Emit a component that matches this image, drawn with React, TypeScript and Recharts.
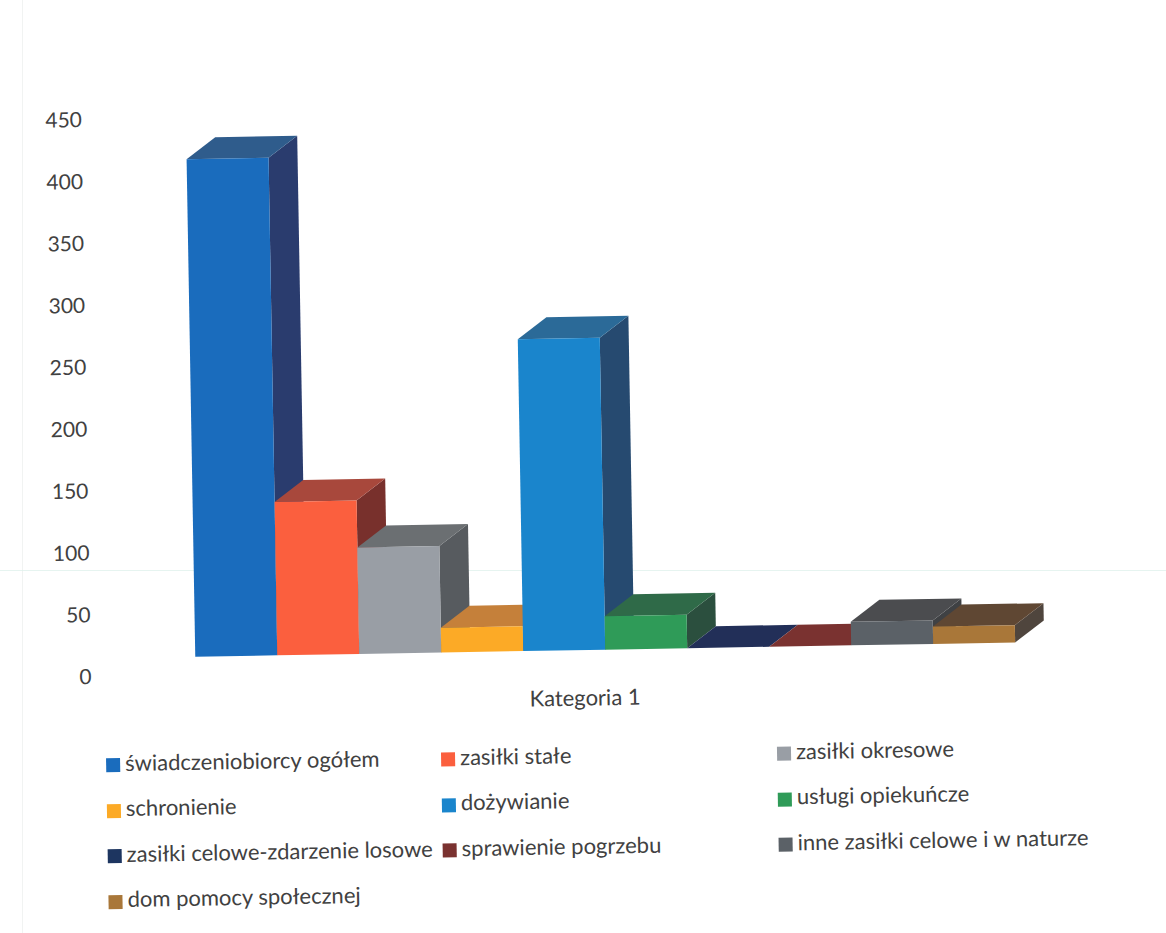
import { BarChart, Bar, XAxis, YAxis } from 'recharts';

const categories = ['Kategoria 1'];
const seriesNames = [
  'świadczeniobiorcy ogółem',
  'zasiłki stałe',
  'zasiłki okresowe',
  'schronienie',
  'dożywianie',
  'usługi opiekuńcze',
  'zasiłki celowe-zdarzenie losowe',
  'sprawienie pogrzebu',
  'inne zasiłki celowe i w naturze',
  'dom pomocy społecznej',
];
const seriesValues = [402, 124, 86, 20, 252, 27, 0, 0, 19, 14];
const yTicks = [0, 50, 100, 150, 200, 250, 300, 350, 400, 450];

const frontColors = ['#1a6cbd', '#fb5f3e', '#999ea5', '#fcaa26', '#1a85cc', '#2f9b58', '#1d3560', '#7a3230', '#5b6167', '#a97739'];
const topColors = ['#2f5c8c', '#a8483c', '#6b6f72', '#c5803a', '#2b6a98', '#2f6a48', '#222f58', '#7a3230', '#4b4c4f', '#5f4733'];
const sideColors = ['#2a3c6e', '#78302c', '#575b5f', '#8a5a30', '#264a70', '#2b4f3e', '#1a2546', '#5a2422', '#3f4144', '#4f453d'];

const legendColumns = [101, 436, 772];
const textColor = '#414141';
const fontFamily = 'Lato, sans-serif';

// the front of the 3D box sits above the axis zero, depth goes up and right
const depthX = 29;
const depthY = 21.5;
const frontLift = 18;

const data = categories.map((name) => {
  const row: any = { name };
  seriesNames.forEach((s, i) => { row[s] = seriesValues[i]; });
  return row;
});

function Box3D(props: any, i: number) {
  const { x, y, width, height } = props;
  const l = x;
  const r = x + width;
  const t = y - frontLift;
  const b = y + height - frontLift;
  return (
    <g>
      <polygon points={`${r},${t} ${r + depthX},${t - depthY} ${r + depthX},${b - depthY} ${r},${b}`} fill={sideColors[i]} />
      <polygon points={`${l},${t} ${l + depthX},${t - depthY} ${r + depthX},${t - depthY} ${r},${t}`} fill={topColors[i]} />
      <rect x={l} y={t} width={width} height={height} fill={frontColors[i]} />
    </g>
  );
}

export default function App() {
  return (
    <div style={{ position: 'absolute', left: 0, top: 0, width: 1166, height: 933, overflow: 'hidden', background: '#fff' }}>
      {/* scanner marks */}
      <div style={{ position: 'absolute', left: 22, top: 0, width: 1, height: 933, background: '#f1f3f2' }} />
      <div style={{ position: 'absolute', left: 0, top: 570, width: 1166, height: 1, background: '#dcefe9', opacity: 0.7 }} />
      <div style={{ position: 'absolute', left: 0, top: 0, width: 1166, height: 933, transform: 'rotate(-1deg)', transformOrigin: '583px 466px', fontFamily }}>
        <BarChart
          width={1166}
          height={933}
          data={data}
          barGap={0}
          barCategoryGap={0}
          margin={{ top: 111, right: 152, bottom: 235, left: 0 }}
        >
          <XAxis
            dataKey="name"
            axisLine={false}
            tickLine={false}
            padding={{ left: 94, right: 0 }}
            tickMargin={16}
            tick={{ fontSize: 22, fill: textColor, fontFamily, dx: -22 }}
          />
          <YAxis
            width={98}
            domain={[0, 450]}
            ticks={yTicks}
            axisLine={false}
            tickLine={false}
            tickMargin={4}
            tick={{ fontSize: 21, fill: textColor, fontFamily }}
          />
          {seriesNames.map((s, i) => (
            <Bar key={s} dataKey={s} fill={frontColors[i]} isAnimationActive={false} shape={(p: any) => Box3D(p, i)} />
          ))}
        </BarChart>
        {seriesNames.map((s, i) => (
          <div
            key={s}
            style={{
              position: 'absolute',
              left: legendColumns[i % 3],
              top: 754 + Math.floor(i / 3) * 45.5 - 15,
              height: 30,
              display: 'flex',
              alignItems: 'center',
              whiteSpace: 'nowrap',
              fontSize: 22,
              color: textColor,
            }}
          >
            <span style={{ width: 14, height: 14, marginRight: 5, background: frontColors[i], display: 'inline-block', position: 'relative', top: 3 }} />
            {s}
          </div>
        ))}
      </div>
    </div>
  );
}
